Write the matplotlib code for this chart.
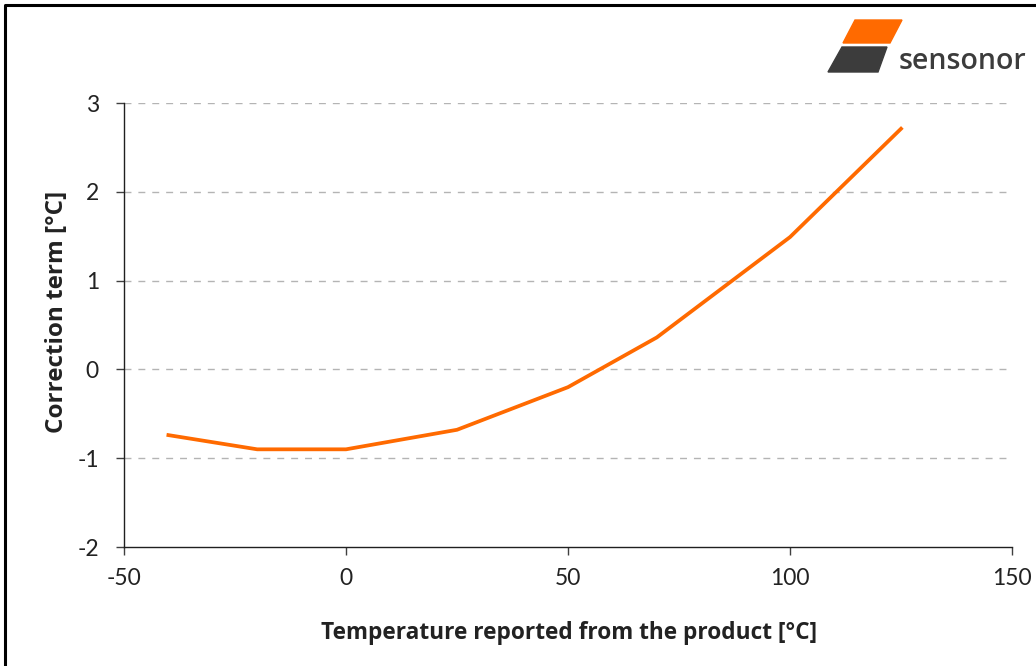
import numpy as np
import matplotlib
matplotlib.use('Agg')
import matplotlib.pyplot as plt
from matplotlib.patches import Polygon
from matplotlib.lines import Line2D

plt.rcParams['font.family'] = ['Lato', 'DejaVu Sans']
plt.rcParams['axes.unicode_minus'] = False

# data
temperature = [-40, -20, 0, 25, 50, 70, 100, 125]
correction = [-0.74, -0.90, -0.90, -0.68, -0.20, 0.36, 1.49, 2.71]
xticks = [-50, 0, 50, 100, 150]
yticks = [-2, -1, 0, 1, 2, 3]

W, H = 1036, 666
fig = plt.figure(figsize=(W/100, H/100), dpi=100)
ax = fig.add_axes([124/W, 1-547/H, 888/W, 444/H])

ax.plot(temperature, correction, color='#ff6a00', lw=2.7, solid_joinstyle='miter', zorder=3)

ax.set_xlim(-50, 150)
ax.set_ylim(-2, 3)
ax.set_xticks(xticks)
ax.set_yticks(yticks)
for y in yticks[1:]:
    ax.axhline(y, color='#b4b4b4', lw=1, ls=(0, (5, 5)), zorder=1)

for s in ['top', 'right']:
    ax.spines[s].set_visible(False)
for s in ['left', 'bottom']:
    ax.spines[s].set_color('#202020')
    ax.spines[s].set_linewidth(1)
ax.tick_params(axis='both', direction='out', length=6, width=1, color='#404040',
               labelsize=16.5, labelcolor='#222222')
ax.tick_params(axis='x', pad=9)
ax.tick_params(axis='y', pad=12)

lab_font = ['Open Sans', 'DejaVu Sans']
fig.text(569/W, 1-633/H, 'Temperature reported from the product [°C]', fontsize=16.3,
         fontweight='bold', color='#222222', family=lab_font, ha='center', va='center')
fig.text(57/W, 1-312/H, 'Correction term [°C]', fontsize=17.5, fontweight='bold',
         color='#222222', family=lab_font, ha='center', va='center', rotation=90)

# sensonor logo, in pixel coords
def px(pts):
    return [(x/W, 1-y/H) for x, y in pts]

fig.patches.append(Polygon(px([(855, 20), (902, 20), (890, 43), (843, 43)]),
                           closed=True, color='#ff6a00', transform=fig.transFigure))
fig.patches.append(Polygon(px([(842, 47), (887, 47), (878, 72), (828, 72)]),
                           closed=True, color='#3c3c3c', transform=fig.transFigure))
fig.text(899/W, 1-69/H, 'sensonor', fontsize=20.5, color='#3c3c3c', fontweight='semibold',
         family=['Open Sans', 'DejaVu Sans'], ha='left', va='baseline')

# frame on left and top
fig.lines.append(Line2D([5/W, 5/W, 1.0], [0, 1-5/H, 1-5/H], color='black', lw=2.2,
                        transform=fig.transFigure))

fig.savefig('out.png', dpi=100)
